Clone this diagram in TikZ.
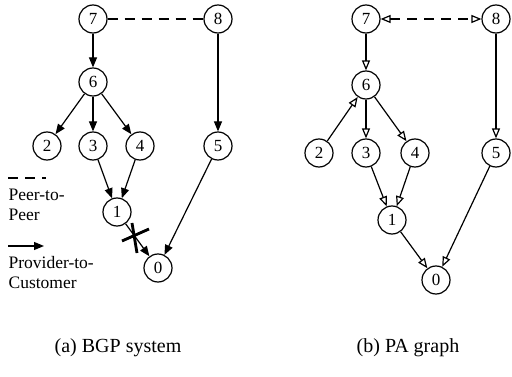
\documentclass[tikz,border=0pt]{standalone}
\usepackage{fontspec}
\setmainfont{Liberation Serif}
\usetikzlibrary{arrows.meta}
\begin{document}
\begin{tikzpicture}[x=1pt, y=-1pt, line width=1.2pt,
  asnode/.style={circle, draw, minimum size=28pt, inner sep=0pt, font=\fontsize{17}{19}\selectfont},
  cust/.style={-{Triangle[length=10pt, width=8pt]}},
  custopen/.style={-{Triangle[open, length=10pt, width=8pt]}},
  peer/.style={dash pattern=on 10pt off 7pt},
  peeropen/.style={peer, {Triangle[open, length=10pt, width=8pt]}-{Triangle[open, length=10pt, width=8pt]}},
  crossmark/.style={line width=2.8pt},
  legend/.style={align=left, inner sep=0pt, font=\fontsize{17.5}{20}\selectfont},
  caption/.style={inner sep=0pt, font=\fontsize{20}{22}\selectfont}]
\useasboundingbox (0,0) rectangle (512,377);
% (a) BGP system
\node[asnode] (a7) at (93,19){7};
\node[asnode] (a8) at (218,19){8};
\node[asnode] (a6) at (93,82){6};
\node[asnode] (a2) at (47,146){2};
\node[asnode] (a3) at (93,146){3};
\node[asnode] (a4) at (140,146){4};
\node[asnode] (a5) at (218,146){5};
\node[asnode] (a1) at (117,212){1};
\node[asnode] (a0) at (158,268){0};
\draw[peer](a7) -- (a8);
\draw[cust](a7) -- (a6);
\draw[cust](a6) -- (a2);
\draw[cust](a6) -- (a3);
\draw[cust](a6) -- (a4);
\draw[cust](a8) -- (a5);
\draw[cust](a3) -- (a1);
\draw[cust](a4) -- (a1);
\draw[cust](a1) -- (a0);
\draw[cust](a5) -- (a0);
\coordinate (cut) at (135,238);
\draw[crossmark](cut) ++(-13,3) -- ++(27,-12);
\draw[crossmark](cut) ++(-3,-15) -- ++(5,30);
% legend
\coordinate (pp1) at (8,178);
\coordinate (pp2) at (46,178);
\draw[peer](pp1) -- (pp2);
\node[legend, anchor=north west] (ppt) at (8,188){Peer-to-\\Peer};
\coordinate (pc1) at (8,246);
\coordinate (pc2) at (44,246);
\draw[cust](pc1) -- (pc2);
\node[legend, anchor=north west] (pct) at (8,256){Provider-to-\\Customer};
\node[caption, anchor=base] (capa) at (118,352){(a) BGP system};
% (b) PA graph
\node[asnode] (b7) at (366,19){7};
\node[asnode] (b8) at (496,19){8};
\node[asnode] (b6) at (366,85){6};
\node[asnode] (b2) at (319,153){2};
\node[asnode] (b3) at (366,153){3};
\node[asnode] (b4) at (415,153){4};
\node[asnode] (b5) at (496,153){5};
\node[asnode] (b1) at (392,220){1};
\node[asnode] (b0) at (436,280){0};
\draw[peeropen](b7) -- (b8);
\draw[custopen](b7) -- (b6);
\draw[custopen](b2) -- (b6);
\draw[custopen](b6) -- (b3);
\draw[custopen](b6) -- (b4);
\draw[custopen](b8) -- (b5);
\draw[custopen](b3) -- (b1);
\draw[custopen](b4) -- (b1);
\draw[custopen](b1) -- (b0);
\draw[custopen](b5) -- (b0);
\node[caption, anchor=base] (capb) at (408,352){(b) PA graph};
\end{tikzpicture}
\end{document}
